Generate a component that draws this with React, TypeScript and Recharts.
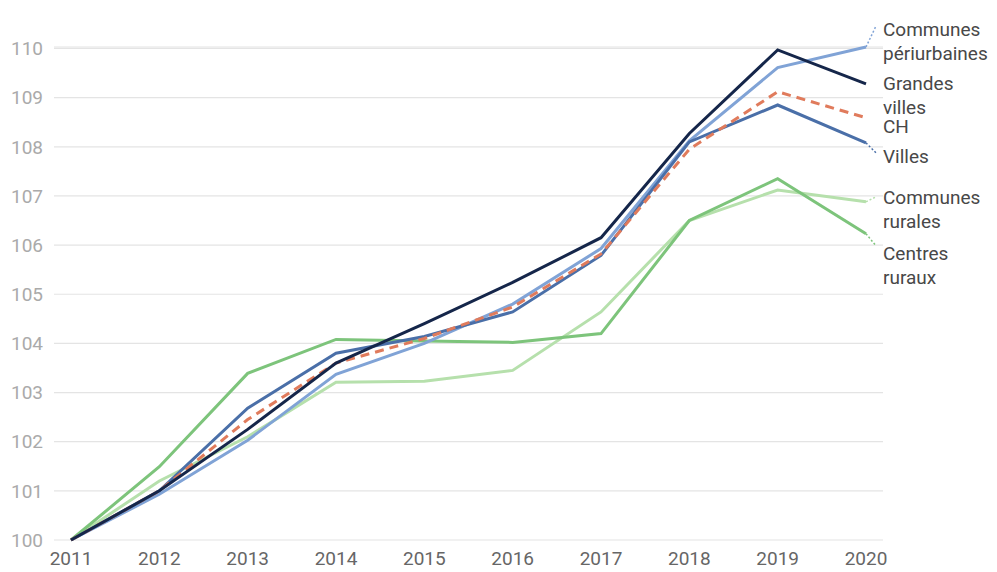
import React from "react";
import { LineChart, Line, XAxis, YAxis, CartesianGrid } from "recharts";

const years = ["2011", "2012", "2013", "2014", "2015", "2016", "2017", "2018", "2019", "2020"];
const yTicks = [100, 101, 102, 103, 104, 105, 106, 107, 108, 109, 110];

const grandesVilles = [100, 101.0, 102.25, 103.6, 104.4, 105.24, 106.15, 108.27, 109.97, 109.28];
const periurbaines = [100, 100.93, 102.03, 103.37, 104.0, 104.8, 105.93, 108.12, 109.61, 110.03];
const ch = [100, 101.0, 102.45, 103.6, 104.1, 104.74, 105.82, 107.95, 109.12, 108.59];
const villes = [100, 101.0, 102.68, 103.8, 104.14, 104.64, 105.79, 108.1, 108.85, 108.08];
const communesRurales = [100, 101.2, 102.1, 103.21, 103.23, 103.45, 104.64, 106.5, 107.12, 106.88];
const centresRuraux = [100, 101.49, 103.39, 104.08, 104.05, 104.02, 104.2, 106.5, 107.35, 106.23];

const data = years.map((year, i) => ({
  year,
  grandesVilles: grandesVilles[i],
  periurbaines: periurbaines[i],
  ch: ch[i],
  villes: villes[i],
  communesRurales: communesRurales[i],
  centresRuraux: centresRuraux[i],
}));

const LAST = years.length - 1;
const FONT = "Roboto, 'Noto Sans', sans-serif";

// end label: text lines placed at fixed offsets from the last point, optional dotted leader
const endLabel =
  (lines: string[], textDy: number, color: string, leader?: [number, number]) =>
  (props: any) => {
    if (props.index !== LAST) return <g />;
    const x = Number(props.x);
    const y = Number(props.y);
    return (
      <g>
        {leader && (
          <line
            x1={x}
            y1={y}
            x2={x + leader[0]}
            y2={y + leader[1]}
            stroke={color}
            strokeWidth={1.5}
            strokeDasharray="2 2"
          />
        )}
        {lines.map((t, k) => (
          <text
            key={k}
            x={x + 17}
            y={y + textDy + k * 24}
            dominantBaseline="central"
            fill="#484848"
            fontSize={19}
            fontFamily={FONT}
          >
            {t}
          </text>
        ))}
      </g>
    );
  };

export default function App() {
  return (
    <div style={{ position: "absolute", left: 0, top: 0, background: "#fff" }}>
      <LineChart
        width={997}
        height={572}
        data={data}
        margin={{ top: 47, right: 114, bottom: 2, left: 0 }}
      >
        <CartesianGrid vertical={false} stroke="#e4e4e4" strokeWidth={1.2} />
        <XAxis
          dataKey="year"
          axisLine={false}
          tickLine={false}
          padding={{ left: 17, right: 17 }}
          height={30}
          tickMargin={6}
          interval={0}
          tick={{ fill: "#666", fontSize: 19, fontFamily: FONT }}
        />
        <YAxis
          domain={[100, 110]}
          ticks={yTicks}
          axisLine={false}
          tickLine={false}
          width={54}
          tickSize={6}
          tickMargin={5}
          tick={{ fill: "#aaa", fontSize: 19, fontFamily: FONT }}
        />
        <Line
          dataKey="communesRurales"
          stroke="#b6e0ac"
          strokeWidth={3}
          dot={false}
          isAnimationActive={false}
          label={endLabel(["Communes", "rurales"], -4, "#b6e0ac", [10, -5])}
        />
        <Line
          dataKey="centresRuraux"
          stroke="#7dc47b"
          strokeWidth={3}
          dot={false}
          isAnimationActive={false}
          label={endLabel(["Centres", "ruraux"], 20, "#7dc47b", [10, 12])}
        />
        <Line
          dataKey="periurbaines"
          stroke="#80a3d6"
          strokeWidth={3}
          dot={false}
          isAnimationActive={false}
          label={endLabel(["Communes", "périurbaines"], -18, "#80a3d6", [10, -21])}
        />
        <Line
          dataKey="villes"
          stroke="#4a6fa8"
          strokeWidth={3}
          dot={false}
          isAnimationActive={false}
          label={endLabel(["Villes"], 14, "#4a6fa8", [10, 10])}
        />
        <Line
          dataKey="ch"
          stroke="#e07b5c"
          strokeWidth={3}
          strokeDasharray="9 6"
          dot={false}
          isAnimationActive={false}
          label={endLabel(["CH"], 9, "#e07b5c")}
        />
        <Line
          dataKey="grandesVilles"
          stroke="#15264a"
          strokeWidth={3}
          dot={false}
          isAnimationActive={false}
          label={endLabel(["Grandes", "villes"], 0, "#15264a")}
        />
      </LineChart>
    </div>
  );
}
